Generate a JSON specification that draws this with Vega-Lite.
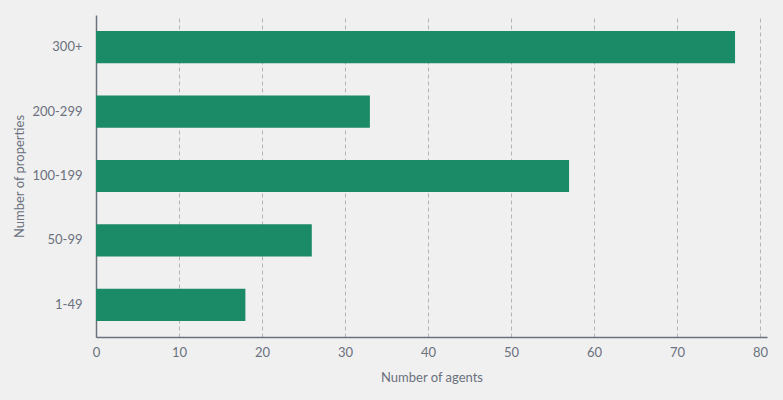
{
  "$schema": "https://vega.github.io/schema/vega-lite/v6.json",
  "autosize": "none",
  "width": 671,
  "height": 322,
  "padding": {"left": 96, "top": 15, "right": 16, "bottom": 63},
  "background": "#f0f0f0",
  "config": {
    "view": {"stroke": null},
    "font": "Lato",
    "axis": {"labelFont": "Lato", "titleFont": "Lato", "labelColor": "#6b717d", "titleColor": "#6b717d", "titleFontWeight": "normal", "labelFontSize": 13, "titleFontSize": 13}
  },
  "data": {
    "values": [
      {"properties": "300+", "agents": 77},
      {"properties": "200-299", "agents": 33},
      {"properties": "100-199", "agents": 57},
      {"properties": "50-99", "agents": 26},
      {"properties": "1-49", "agents": 18}
    ]
  },
  "mark": {"type": "bar", "color": "#1b8a66"},
  "encoding": {
    "y": {
      "field": "properties", "type": "nominal", "sort": ["300+", "200-299", "100-199", "50-99", "1-49"],
      "title": "Number of properties",
      "scale": {"paddingInner": 0.5, "paddingOuter": 0.25},
      "axis": {"ticks": false, "labelPadding": 14, "domainColor": "#6b717d", "domainWidth": 1.5, "titlePadding": 5, "grid": false}
    },
    "x": {
      "field": "agents", "type": "quantitative", "title": "Number of agents",
      "scale": {"domain": [0, 80.85], "nice": false, "zero": true},
      "axis": {"values": [0, 10, 20, 30, 40, 50, 60, 70, 80], "ticks": false, "labelPadding": 9, "domainColor": "#6b717d", "domainWidth": 1.5, "grid": true, "gridDash": [4, 3], "gridColor": "#b4b4b8", "gridWidth": 1, "titlePadding": 12, "labelFlush": false}
    }
  }
}
